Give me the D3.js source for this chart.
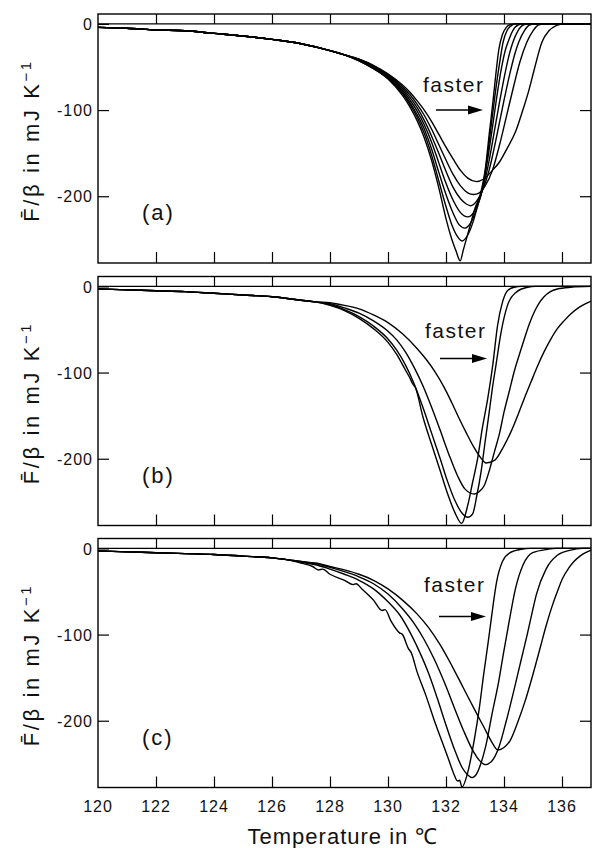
<!DOCTYPE html>
<meta charset="utf-8">
<style>
  body { margin: 0; background: #fff; }
  svg { display: block; }
  .frame { fill: none; stroke: #000; stroke-width: 1.4px; }
  .zero { stroke: #000; stroke-width: 1.2px; }
  .curve { fill: none; stroke: #000; stroke-width: 1.4px; stroke-linejoin: round; }
  .axis path { display: none; }
  .axis line { stroke: #000; stroke-width: 1.2px; }
  .lab { font-family: "Liberation Sans", Arial, sans-serif; fill: #111; }
</style>
<svg width="593" height="848"></svg>
<script src="https://d3js.org/d3.v7.min.js"></script>
<script>
// ---- data : [temperature in C, F/beta in mJ/K]
var xTicks = [120, 122, 124, 126, 128, 130, 132, 134, 136];
var yTicks = [0, -100, -200];
var panelNames = ["(a)", "(b)", "(c)"];

// panel (a): common low-temperature part, then 7 heating rates (slowest first)
var baseA = [[120,-4],[121,-5],[122,-7],[123,-8],[124,-11],[125,-14],[126,-18],[127,-23],[128,-31],[128.5,-36]];
var a1 = [[129,-43],[129.5,-52],[130,-64],[130.5,-83],[130.75,-96],[131,-112],[131.25,-132],[131.5,-158],[131.75,-190],[132,-226],[132.2,-250],[132.35,-264],[132.49,-275],[132.6,-262],[132.8,-238],[133.0,-214],[133.2,-196],[133.35,-170],[133.5,-125],[133.62,-90],[133.72,-58],[133.82,-30],[133.95,-12],[134.08,-4],[134.2,-1],[134.4,0],[137,0]];
var a2 = [[129,-43],[129.5,-52],[130,-63],[130.5,-81],[130.75,-93],[131,-108],[131.25,-127],[131.5,-152],[131.75,-182],[132,-212],[132.2,-233],[132.4,-247],[132.55,-252],[132.75,-245],[132.95,-228],[133.1,-210],[133.25,-192],[133.4,-160],[133.55,-120],[133.7,-80],[133.85,-45],[133.97,-21],[134.1,-8],[134.25,-2],[134.4,0],[137,0]];
var a3 = [[129,-42],[129.5,-51],[130,-62],[130.5,-79],[130.75,-91],[131,-105],[131.25,-122],[131.5,-145],[131.75,-172],[132,-198],[132.25,-220],[132.45,-233],[132.65,-237],[132.85,-231],[133.05,-215],[133.25,-193],[133.4,-165],[133.58,-125],[133.75,-85],[133.92,-50],[134.05,-30],[134.14,-21],[134.3,-8],[134.5,-1],[134.65,0],[137,0]];
var a4 = [[129,-42],[129.5,-51],[130,-61],[130.5,-77],[130.75,-88],[131,-101],[131.25,-117],[131.5,-137],[131.75,-161],[132,-185],[132.25,-205],[132.5,-219],[132.75,-224],[132.95,-219],[133.1,-208],[133.25,-193],[133.45,-165],[133.65,-128],[133.85,-90],[134.05,-55],[134.2,-33],[134.31,-21],[134.48,-8],[134.68,-1],[134.85,0],[137,0]];
var a5 = [[129,-42],[129.5,-50],[130,-60],[130.5,-75],[130.75,-85],[131,-97],[131.25,-112],[131.5,-130],[131.75,-150],[132,-171],[132.25,-190],[132.5,-203],[132.7,-209],[132.85,-211],[133.05,-206],[133.25,-194],[133.5,-168],[133.75,-130],[133.98,-92],[134.2,-58],[134.38,-34],[134.51,-21],[134.7,-8],[134.9,-1],[135.1,0],[137,0]];
var a6 = [[129,-41],[129.5,-49],[130,-59],[130.5,-73],[130.75,-82],[131,-93],[131.25,-106],[131.5,-122],[131.75,-140],[132,-158],[132.25,-175],[132.5,-188],[132.75,-196],[132.95,-198],[133.15,-196],[133.35,-188],[133.6,-170],[133.85,-140],[134.1,-105],[134.35,-70],[134.55,-44],[134.79,-21],[135.0,-8],[135.2,-1],[135.4,0],[137,0]];
var a7 = [[129,-41],[129.5,-48],[130,-58],[130.5,-71],[130.75,-79],[131,-89],[131.25,-100],[131.5,-113],[131.75,-128],[132,-143],[132.25,-157],[132.5,-170],[132.75,-179],[133.05,-183],[133.3,-180],[133.6,-170],[133.85,-160],[134.1,-145],[134.4,-125],[134.65,-100],[134.85,-78],[135.05,-52],[135.31,-21],[135.55,-8],[135.8,-2],[136.06,0],[137,0]];

// panel (b): 4 heating rates
var baseB = [[120,-3],[121,-4],[122,-5],[123,-6],[124,-8],[125,-10],[126,-12],[127,-16],[127.5,-18]];
var b1 = [[128,-22],[128.5,-28],[129,-37],[129.5,-49],[130,-65],[130.3,-79],[130.6,-97],[130.75,-106],[130.85,-113],[130.95,-118],[131.2,-151],[131.5,-183],[131.8,-214],[132.05,-240],[132.3,-262],[132.54,-275],[132.75,-254],[132.92,-227],[133.09,-200],[133.25,-165],[133.44,-130],[133.61,-92],[133.78,-45],[133.95,-18],[134.12,-5],[134.35,-1],[134.6,0],[137,0]];
var b2 = [[128,-21],[128.5,-27],[129,-35],[129.5,-46],[130,-61],[130.3,-74],[130.6,-91],[130.9,-113],[131.2,-140],[131.5,-170],[131.8,-200],[132.05,-226],[132.3,-248],[132.55,-263],[132.75,-268],[132.92,-264],[133.05,-245],[133.21,-215],[133.35,-180],[133.49,-146],[133.6,-118],[133.72,-92],[133.9,-53],[134.12,-22],[134.41,-7],[134.81,-1],[135.1,0],[137,0]];
var b3 = [[128,-20],[128.5,-25],[129,-31],[129.5,-40],[130,-52],[130.3,-62],[130.6,-76],[130.9,-94],[131.2,-115],[131.5,-140],[131.8,-167],[132.1,-195],[132.4,-220],[132.65,-235],[132.98,-241],[133.15,-238],[133.32,-231],[133.5,-213],[133.67,-192],[133.85,-170],[134.0,-146],[134.18,-122],[134.35,-99],[134.53,-79],[134.7,-61],[134.87,-44],[135.04,-30],[135.2,-20],[135.38,-12],[135.6,-6],[135.84,-3],[136.3,-1],[137,0]];
var b4 = [[128,-19],[128.5,-22],[129,-26],[129.5,-33],[130,-42],[130.5,-55],[131,-72],[131.3,-84],[131.6,-98],[131.95,-118],[132.2,-135],[132.45,-153],[132.7,-170],[132.95,-186],[133.2,-199],[133.38,-205],[133.67,-202],[134.0,-185],[134.25,-168],[134.47,-150],[134.7,-130],[134.93,-111],[135.15,-93],[135.38,-76],[135.6,-62],[135.84,-49],[136.07,-40],[136.3,-32],[136.6,-24],[137,-17]];

// panel (c): 4 heating rates
var baseC = [[120,-3],[121,-4],[122,-5],[123,-6],[124,-7],[125,-9],[126,-11],[126.5,-13]];
var c1 = [[127,-17],[127.4,-21],[127.6,-25],[127.75,-24],[128,-30],[128.5,-37],[128.8,-42],[128.9,-41],[129.1,-47],[129.5,-60],[129.8,-72],[129.9,-71],[130.1,-84],[130.4,-98],[130.5,-100],[130.7,-116],[130.8,-121],[131.0,-143],[131.3,-170],[131.6,-200],[131.85,-223],[132.06,-242],[132.25,-260],[132.4,-270],[132.47,-269],[132.55,-277],[132.75,-260],[132.97,-223],[133.15,-185],[133.3,-146],[133.45,-110],[133.56,-82],[133.75,-38],[133.95,-15],[134.21,-5],[134.6,-1],[134.9,0],[137,0]];
var c2 = [[127,-16],[127.5,-19],[128,-24],[128.5,-30],[129,-37],[129.5,-47],[130,-62],[130.4,-77],[130.8,-100],[131.1,-121],[131.4,-145],[131.7,-174],[132.0,-205],[132.3,-234],[132.55,-254],[132.75,-263],[132.9,-266],[133.05,-262],[133.2,-250],[133.36,-231],[133.6,-190],[133.82,-154],[133.98,-122],[134.14,-92],[134.4,-46],[134.66,-19],[134.99,-5],[135.51,-1],[135.8,0],[137,0]];
var c3 = [[127,-15],[127.5,-18],[128,-22],[128.5,-27],[129,-33],[129.5,-41],[130,-53],[130.5,-70],[130.9,-87],[131.25,-106],[131.6,-129],[131.95,-156],[132.3,-186],[132.6,-211],[132.9,-233],[133.15,-246],[133.36,-251],[133.55,-248],[133.82,-231],[134.08,-200],[134.34,-165],[134.58,-131],[134.8,-100],[134.96,-76],[135.12,-53],[135.45,-24],[135.84,-8],[136.3,-2],[136.7,0],[137,0]];
var c4 = [[127,-15],[127.5,-17],[128,-21],[128.5,-25],[129,-30],[129.5,-37],[130,-47],[130.5,-60],[131,-76],[131.4,-92],[131.8,-112],[132.2,-136],[132.6,-162],[133.0,-188],[133.3,-207],[133.55,-223],[133.79,-234],[134.0,-231],[134.21,-223],[134.47,-202],[134.73,-177],[135.0,-146],[135.25,-115],[135.45,-90],[135.64,-69],[135.84,-50],[136.03,-34],[136.23,-23],[136.42,-15],[136.62,-9],[136.81,-5],[137,-2]];

var bases = [baseA, baseB, baseC];
var curveSets = [[a1, a2, a3, a4, a5, a6, a7], [b1, b2, b3, b4], [c1, c2, c3, c4]];

// ---- layout
var svg = d3.select("svg"),
  left = 98, right = 591, ph = 249,
  tops = [14, 276.5, 538.5],
  fasterPos = [[423, 78, 436, 96], [425, 61, 440, 82], [424, 53, 439, 78]]; // text x, baseline, arrow x, arrow y (rel. to panel top)

var x = d3.scaleLinear().domain([120, 137]).range([left, right]);

var line = d3.line()
  .x(function (d) { return x(d[0]); })
  .curve(d3.curveMonotoneX);

panelNames.forEach(function (name, i) {
  var top = tops[i], bottom = top + ph;
  var y = d3.scaleLinear().domain([-277.5, 11.5]).range([bottom, top]);
  var g = svg.append("g");

  // axes, ticks pointing inside
  g.append("g").attr("class", "axis")
    .attr("transform", "translate(0," + bottom + ")")
    .call(d3.axisBottom(x).tickValues(xTicks.slice(1)).tickSize(-11).tickFormat(""));
  g.append("g").attr("class", "axis")
    .attr("transform", "translate(0," + top + ")")
    .call(d3.axisTop(x).tickValues(xTicks.slice(1)).tickSize(-(y(0) - top)).tickFormat(""));
  var yl = g.append("g").attr("class", "axis")
    .attr("transform", "translate(" + left + ",0)")
    .call(d3.axisLeft(y).tickValues(yTicks).tickSize(-11).tickPadding(6));
  yl.selectAll("text").attr("class", "lab").attr("font-size", 16)
    .attr("font-family", null).style("letter-spacing", "1px")
    .attr("x", -5).attr("dy", "0.36em")
    .text(function (d) { return d === 0 ? "0" : "-" + Math.abs(d); });
  g.append("g").attr("class", "axis")
    .attr("transform", "translate(" + right + ",0)")
    .call(d3.axisRight(y).tickValues(yTicks.slice(1)).tickSize(-11).tickFormat(""));

  g.append("line").attr("class", "zero")
    .attr("x1", left).attr("x2", right).attr("y1", y(0)).attr("y2", y(0));
  g.append("rect").attr("class", "frame")
    .attr("x", left).attr("y", top).attr("width", right - left).attr("height", ph);

  // curves
  line.y(function (d) { return y(d[1]); });
  g.selectAll("path.curve").data(curveSets[i]).enter().append("path")
    .attr("class", "curve")
    .attr("d", function (c) { return line(bases[i].concat(c)); });

  // texts
  g.append("text").attr("class", "lab").attr("font-size", 22)
    .style("letter-spacing", "2px")
    .attr("x", 142).attr("y", top + 206).text(name);

  var fp = fasterPos[i];
  g.append("text").attr("class", "lab").attr("font-size", 21)
    .style("letter-spacing", "1.5px")
    .attr("x", fp[0]).attr("y", top + fp[1]).text("faster");
  g.append("line").attr("stroke", "#000").attr("stroke-width", 1.6)
    .attr("x1", fp[2]).attr("x2", fp[2] + 36)
    .attr("y1", top + fp[3]).attr("y2", top + fp[3]);
  g.append("path").attr("fill", "#000")
    .attr("d", "M" + (fp[2] + 47) + "," + (top + fp[3]) + "l-15,-4.5l0,9z");

  var yt = g.append("text").attr("class", "lab").attr("font-size", 22)
    .attr("text-anchor", "middle").style("letter-spacing", "2.6px")
    .attr("transform", "translate(39," + (top + ph / 2 + 2) + ") rotate(-90)");
  yt.append("tspan").text("F\u0304/\u03b2  in mJ K");
  yt.append("tspan").attr("font-size", 15).attr("dy", -8).text("\u22121");
});

// bottom tick labels and title
var bottom = tops[2] + ph;
svg.append("g").selectAll("text").data(xTicks).enter().append("text")
  .attr("class", "lab").attr("font-size", 16).attr("text-anchor", "middle")
  .style("letter-spacing", "1px")
  .attr("x", function (d) { return x(d); }).attr("y", bottom + 24)
  .text(function (d) { return d; });

svg.append("text").attr("class", "lab").attr("font-size", 22)
  .attr("text-anchor", "middle").style("letter-spacing", "1px")
  .attr("x", 343).attr("y", 844).text("Temperature  in \u2103");
</script>
